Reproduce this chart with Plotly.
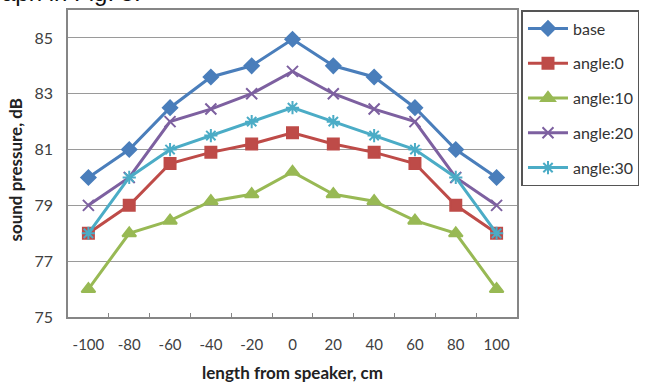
import plotly.graph_objects as go

categories = ["-100", "-80", "-60", "-40", "-20", "0", "20", "40", "60", "80", "100"]
base = [80, 81, 82.5, 83.6, 84, 84.95, 84, 83.6, 82.5, 81, 80]
angle0 = [78, 79, 80.5, 80.9, 81.2, 81.6, 81.2, 80.9, 80.5, 79, 78]
angle10 = [76, 78, 78.45, 79.15, 79.4, 80.2, 79.4, 79.15, 78.45, 78, 76]
angle20 = [79, 80, 82, 82.45, 83, 83.8, 83, 82.45, 82, 80, 79]
angle30 = [78, 80, 81, 81.5, 82, 82.5, 82, 81.5, 81, 80, 78]
y_ticks = [75, 77, 79, 81, 83, 85]

series = [
    ("base", base, "#4A7EBB", "diamond", 11),
    ("angle:0", angle0, "#BE4B48", "square", 11),
    ("angle:10", angle10, "#98B954", "triangle-up", 12),
    ("angle:20", angle20, "#7D60A0", "x-thin-open", 11),
    ("angle:30", angle30, "#4BACC6", "asterisk-open", 11),
]

fig = go.Figure()
for i, (name, vals, color, sym, size) in enumerate(series):
    fig.add_trace(go.Scatter(
        x=categories, y=vals, name=name, mode="lines+markers",
        line=dict(color=color, width=3),
        marker=dict(symbol=sym, size=size, color=color,
                    line=dict(color=color, width=2)),
        legendgroup=f"g{i}",
    ))

fig.update_layout(
    width=645, height=383,
    margin=dict(l=68, r=128, t=10, b=66, autoexpand=False),
    paper_bgcolor="white", plot_bgcolor="white",
    font=dict(family="Lato, Open Sans, sans-serif", size=16, color="#404040"),
    showlegend=True,
    legend=dict(
        x=1.01, xanchor="left", y=1.0, yanchor="top",
        bordercolor="#555555", borderwidth=1.5,
        font=dict(size=16, color="#333333"),
        tracegroupgap=11, itemwidth=40,
    ),
    xaxis=dict(
        type="category", range=[-0.5, 10.5],
        showline=True, linecolor="#868686", linewidth=1.5, mirror=True,
        ticks="inside", tickson="boundaries", ticklen=4, tickcolor="#868686",
        showgrid=False, tickfont=dict(size=15, color="#404040"),
        tickangle=0, ticklabelstandoff=13,
        title=dict(text="<b>length from speaker, cm</b>", font=dict(size=17, color="#222222"), standoff=16),
    ),
    yaxis=dict(
        range=[75, 86], tickvals=y_ticks,
        showline=True, linecolor="#868686", linewidth=1.5, mirror=True,
        showgrid=True, gridcolor="#9a9a9a", gridwidth=1.2,
        ticks="", tickfont=dict(size=16, color="#404040"),
        ticklabelstandoff=10,
        zeroline=False,
    ),
    annotations=[
        dict(text="<b>sound pressure, dB</b>", xref="paper", yref="paper",
             x=-0.116, y=0.48, textangle=-90, showarrow=False,
             xanchor="center", yanchor="middle",
             font=dict(size=17, color="#222222")),
        dict(text="aph in Fig. 5.", xref="paper", yref="paper",
             x=-0.1514, y=1.0, xanchor="left", yanchor="bottom", yshift=2,
             showarrow=False, font=dict(family="Liberation Sans, Arial", size=24, color="#111111")),
    ],
)

fig.write_html("out.html")
